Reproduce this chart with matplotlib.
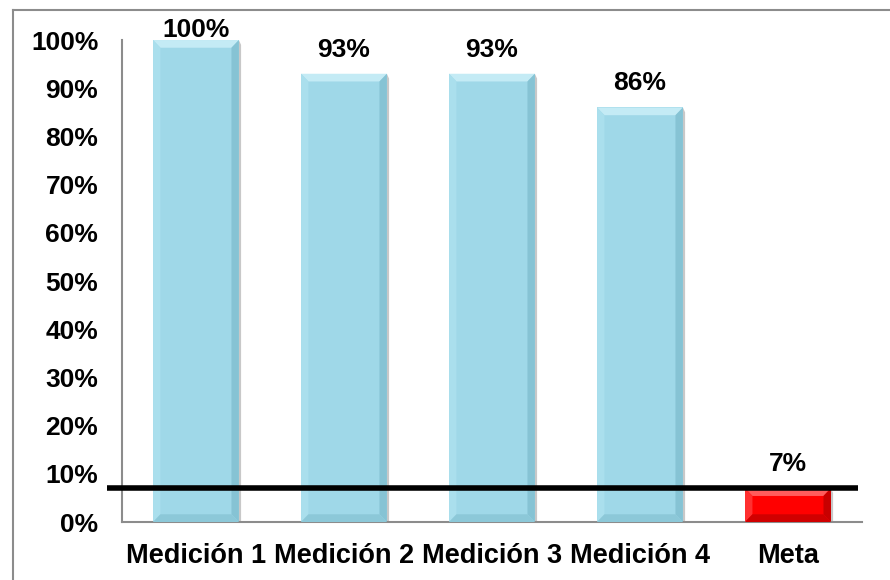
import matplotlib.pyplot as plt
from matplotlib.patches import Polygon
import numpy as np

plt.rcParams['font.family'] = ['Liberation Sans', 'DejaVu Sans']

categorias = ['Medición 1', 'Medición 2', 'Medición 3', 'Medición 4', 'Meta']
valores = [1.00, 0.93, 0.93, 0.86, 0.07]
colores = ['#9fd8e8', '#9fd8e8', '#9fd8e8', '#9fd8e8', '#ff0000']
meta = 0.07

# tonos del biselado: (arriba, izquierda, derecha, abajo)
tonos_azul = ('#c4ebf5', '#aadfed', '#86c3d4', '#8cc8d8')
tonos_rojo = ('#ff5c5c', '#ff3030', '#c80000', '#d00000')

fig = plt.figure(figsize=(8.9, 5.8), dpi=100)
ax = fig.add_axes([0.137, 0.1, 0.8315, 0.831])

x = np.arange(len(categorias))
ancho = 0.58
barras = ax.bar(x, valores, width=ancho, color=colores, linewidth=0, zorder=2)

# efecto biselado en los bordes de cada barra
bx_b, by_b = 0.05, 0.016
for b, c in zip(barras, colores):
    x0, w, h = b.get_x(), b.get_width(), b.get_height()
    x1 = x0 + w
    t = tonos_rojo if c == '#ff0000' else tonos_azul
    dy = min(by_b, h / 3)
    caras = [
        [(x0, h), (x1, h), (x1 - bx_b, h - dy), (x0 + bx_b, h - dy)],
        [(x0, 0), (x0, h), (x0 + bx_b, h - dy), (x0 + bx_b, dy)],
        [(x1, 0), (x1, h), (x1 - bx_b, h - dy), (x1 - bx_b, dy)],
        [(x0, 0), (x1, 0), (x1 - bx_b, dy), (x0 + bx_b, dy)],
    ]
    for cara, tono in zip(caras, t):
        ax.add_patch(Polygon(cara, closed=True, color=tono, lw=0, zorder=3))
    # sombra suave a la derecha
    ax.add_patch(Polygon([(x1, 0), (x1 + 0.015, 0), (x1 + 0.015, h - 0.01), (x1, h)],
                         closed=True, color='#c8c8c8', lw=0, zorder=1))

# línea de la meta
ax.plot([-0.6, 4.47], [meta, meta], color='black', lw=4, zorder=4,
        clip_on=False, solid_capstyle='butt')

for xi, v in zip(x, valores):
    desp = 10 if v >= 1 else 24
    ax.annotate(f'{v:.0%}', (xi, v), xytext=(0, desp),
                textcoords='offset pixels', ha='center', va='center',
                fontsize=19, fontweight='bold', clip_on=False, zorder=5)

ticks_y = np.arange(0, 1.01, 0.1)
ax.set_xlim(-0.5, 4.5)
ax.set_ylim(0, 1)
ax.set_yticks(ticks_y)
ax.set_yticklabels([f'{int(round(t * 100))}%' for t in ticks_y])
ax.set_xticks(x)
ax.set_xticklabels(categorias)
ax.tick_params(axis='y', length=0, pad=17, labelsize=19)
ax.tick_params(axis='x', length=0, pad=15, labelsize=19.5)
for lab in ax.get_xticklabels() + ax.get_yticklabels():
    lab.set_fontweight('bold')

for s in ['top', 'right']:
    ax.spines[s].set_visible(False)
for s in ['left', 'bottom']:
    ax.spines[s].set_color('#8c8c8c')
    ax.spines[s].set_linewidth(1.5)

# marco exterior del gráfico
fig.add_artist(plt.Line2D([13 / 890, 13 / 890], [0, 1 - 10 / 580],
                          color='#8c8c8c', lw=1.5))
fig.add_artist(plt.Line2D([13 / 890, 1], [1 - 10 / 580, 1 - 10 / 580],
                          color='#8c8c8c', lw=1.5))

fig.savefig('out.png', dpi=100)
